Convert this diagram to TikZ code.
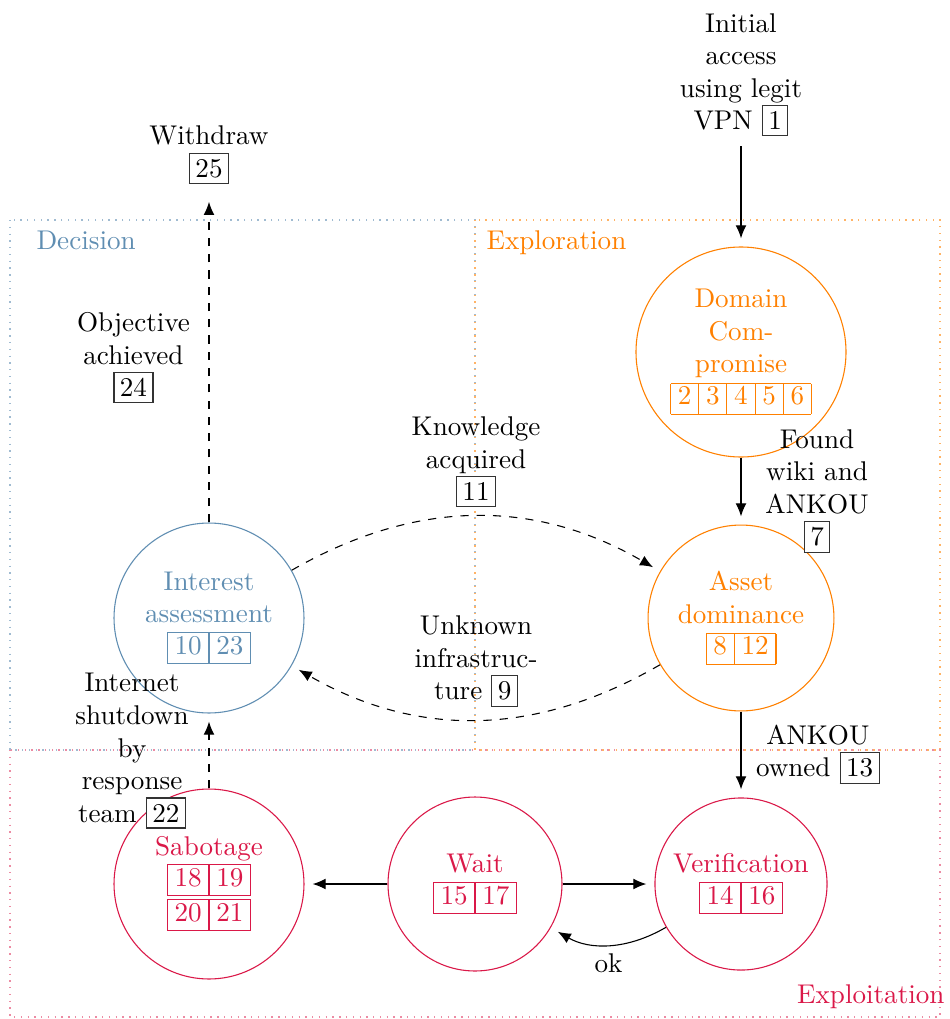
\documentclass[tikz,border=0pt]{standalone}
\usetikzlibrary{arrows.meta}
\definecolor{decblue}{RGB}{96,142,178}
\definecolor{exporange}{RGB}{255,128,0}
\definecolor{expred}{RGB}{218,24,72}
\newcommand\nb[1]{{\setlength\fboxsep{2pt}\fcolorbox{black!80}{white}{#1}}}
\newcommand\cellgrid[2]{{\setlength\tabcolsep{2.7pt}\renewcommand\arraystretch{0.92}\begin{tabular}{#1}\hline #2\\\hline\end{tabular}}}
\tikzset{
  arr/.style={-{Latex[length=4.8pt,width=4pt]}, shorten >=3pt},
  lbl/.style={align=center},
  state/.style={circle, draw, align=center, inner sep=1pt},
  decstate/.style={state, draw=decblue, text=decblue},
  expstate/.style={state, draw=exporange, text=exporange},
  exlstate/.style={state, draw=expred, text=expred},
  region/.style={dotted, line width=0.5pt},
  regionlbl/.style={inner sep=0pt},
}
\begin{document}
\begin{tikzpicture}[x=0.369pt,y=-0.369pt]
\useasboundingbox (0,0) rectangle (949,1019);
% regions
\draw[region, decblue!60] (10,220) rectangle (475,750);
\draw[region, exporange!60] (475,220) rectangle (940,750);
\draw[region, expred!50] (10,750) rectangle (940,1017);
\node[regionlbl, anchor=base west, text=decblue] (dlab) at (36,249) {Decision};
\node[regionlbl, anchor=base west, text=exporange] (elab) at (486,249) {Exploration};
\node[regionlbl, anchor=base east, text=expred] (xlab) at (945,1003) {Exploitation};
% states
\node[expstate, minimum size=77.5pt] (dom) at (741,352) {Domain\\Com-\\promise\\\cellgrid{|c|c|c|c|c|}{2&3&4&5&6}};
\node[expstate, minimum size=68.6pt] (asset) at (741,618) {Asset\\dominance\\\cellgrid{|c|c|}{8&12}};
\node[decstate, minimum size=70.1pt] (int) at (209,618) {Interest\\assessment\\\cellgrid{|c|c|}{10&23}};
\node[exlstate, minimum size=70.1pt] (sab) at (209,884) {Sabotage\\\cellgrid{|c|c|}{18&19\\\hline\noalign{\vskip1.2pt}\hline 20&21}};
\node[exlstate, minimum size=64.2pt] (wait) at (475,884) {Wait\\\cellgrid{|c|c|}{15&17}};
\node[exlstate, minimum size=63.5pt] (ver) at (741,884) {Verification\\\cellgrid{|c|c|}{14&16}};
% free text nodes
\node[lbl] (init) at (741,75) {Initial\\access\\using legit\\VPN \nb{1}};
\node[lbl] (wd) at (209,155) {Withdraw\\\nb{25}};
% connectors
\draw[arr] (init) -- (dom);
\draw[arr] (dom) -- node[lbl, right=5.5pt]{Found\\wiki and\\ANKOU\\\nb{7}} (asset);
\draw[arr] (asset) -- node[lbl, right=2pt]{ANKOU\\owned \nb{13}} (ver);
\draw[arr] (wait) -- (sab);
\draw[arr] (wait) -- (ver);
\draw[arr] (ver) to[bend left=30] node[below]{ok} (wait);
\draw[arr, dashed] (int) to[bend left=30] node[lbl, above]{Knowledge\\acquired\\\nb{11}} (asset);
\draw[arr, dashed] (asset) to[bend left=30] node[lbl, above=1pt]{Unknown\\infrastruc-\\ture \nb{9}} (int);
\draw[arr, dashed] (int) -- node[lbl, left=3.5pt]{Objective\\achieved\\\nb{24}} (wd);
\draw[arr, dashed] (sab) -- node[lbl, left=4pt]{Internet\\shutdown\\by\\response\\team \nb{22}} (int);
\end{tikzpicture}
\end{document}
